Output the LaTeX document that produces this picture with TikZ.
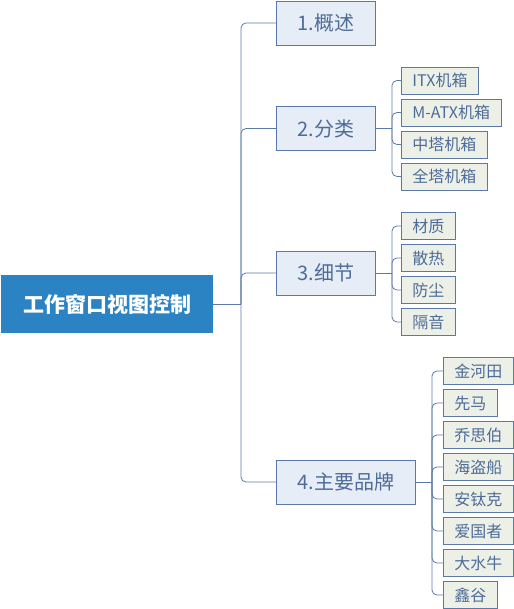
\documentclass[tikz,border=0pt]{standalone}
\usepackage{fontspec}
\setmainfont{Noto Sans CJK SC}
\usetikzlibrary{positioning, calc}
\definecolor{rootblue}{HTML}{2C83C4}
\definecolor{linkblue}{HTML}{5A79A8}
\definecolor{topicfill}{HTML}{E6EDF7}
\definecolor{subfill}{HTML}{EDF0E6}
\definecolor{textblue}{HTML}{4E6C99}

\begin{document}
\begin{tikzpicture}[
          x = 1pt, y = -1pt,
          line width = 0.8pt,
          every node/.style = {inner sep = 0}
        ]
          \tikzstyle {root} = [shape = rectangle, fill = rootblue, text = white, font = \fontsize{21}{24}\selectfont\bfseries, minimum width = 212pt, minimum height = 58pt]
          \tikzstyle {topic} = [draw = linkblue, shape = rectangle, fill = topicfill, text = textblue, font = \fontsize{20}{24}\selectfont, minimum width = 98pt, minimum height = 44pt, inner xsep = 21pt, anchor = west]
          \tikzstyle {sub} = [draw = linkblue, shape = rectangle, fill = subfill, text = textblue, font = \fontsize{16}{19}\selectfont, minimum height = 27pt, inner xsep = 11pt, anchor = west]
          \tikzstyle {link} = [draw = linkblue, rounded corners = 5pt]
          \useasboundingbox (0,0) rectangle (513,609);
          % place nodes
          \path node (r) [root] at (107,304) {工作窗口视图控制};
          \path node (t1) [topic] at (276,23) {1.概述};
          \path node (t2) [topic] at (276,128.5) {2.分类};
          \path node (t3) [topic] at (276,273) {3.细节};
          \path node (t4) [topic] at (276,482) {4.主要品牌};
          \foreach \t [count = \i] in {ITX机箱, M-ATX机箱, 中塔机箱, 全塔机箱}
            { \path node (c2\i) [sub] at (401,{80.5+32*(\i-1)}) {\t}; }
          \foreach \t [count = \i] in {材质, 散热, 防尘, 隔音}
            { \path node (c3\i) [sub] at (401,{226+32*(\i-1)}) {\t}; }
          \foreach \t [count = \i] in {金河田, 先马, 乔思伯, 海盗船, 安钛克, 爱国者, 大水牛, 鑫谷}
            { \path node (c4\i) [sub] at (443,{371+32*(\i-1)}) {\t}; }
          % place edges
          \coordinate (hub) at (241,304);
          \draw [link] (r) -- (hub);
          \foreach \i in {1, 2, 3, 4}
            { \draw [link] (hub) |- (t\i) ; } ;
          \foreach \p/\n in {2/4, 3/4, 4/8}
            {
              \coordinate (b\p) at ($(t\p.east)+(16.5,0)$);
              \draw [link] (t\p) -- (b\p);
              \foreach \i in {1, ..., \n}
                { \draw [link] (b\p) |- (c\p\i) ; } ;
            }
        \end{tikzpicture}
\end{document}
